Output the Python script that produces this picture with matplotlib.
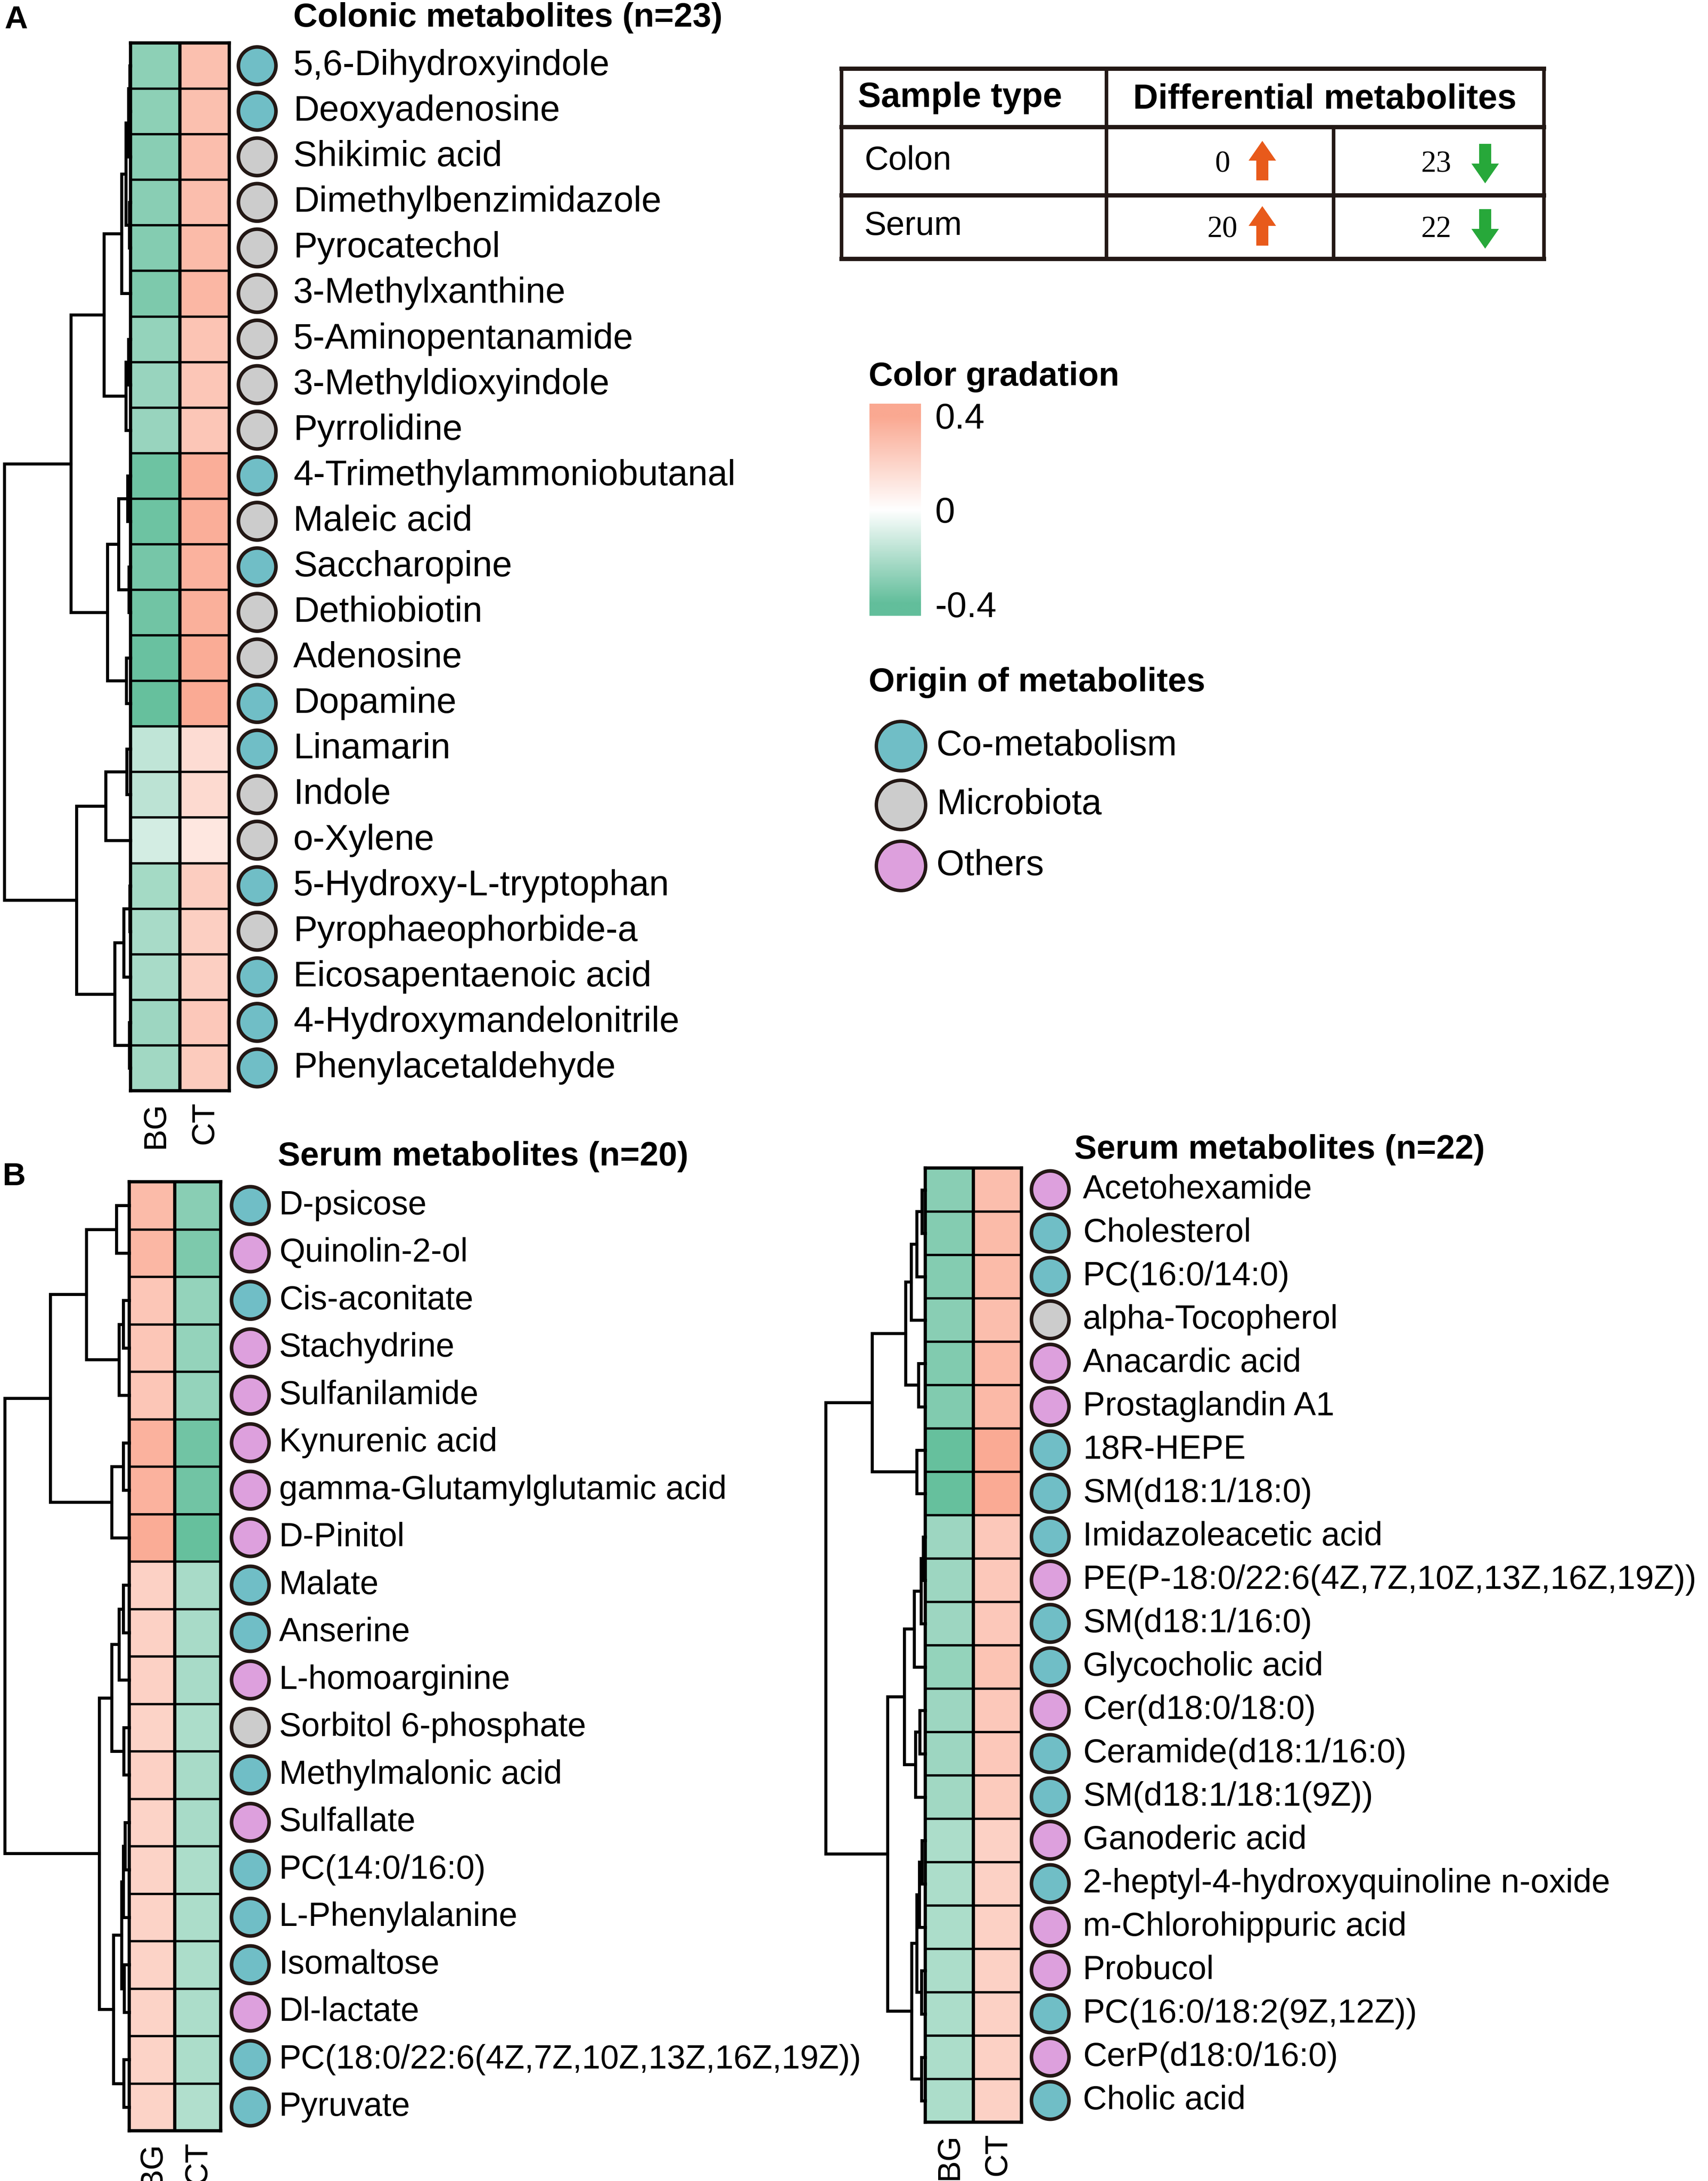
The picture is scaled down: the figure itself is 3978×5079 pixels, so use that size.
import numpy as np
import matplotlib
matplotlib.use("Agg")
import matplotlib.pyplot as plt
from matplotlib.colors import LinearSegmentedColormap
from matplotlib.patches import FancyArrow

plt.rcParams['font.family'] = ['Liberation Sans', 'DejaVu Sans']

# ---------------- data ----------------
colon_names = ["5,6-Dihydroxyindole", "Deoxyadenosine", "Shikimic acid", "Dimethylbenzimidazole",
               "Pyrocatechol", "3-Methylxanthine", "5-Aminopentanamide", "3-Methyldioxyindole",
               "Pyrrolidine", "4-Trimethylammoniobutanal", "Maleic acid", "Saccharopine",
               "Dethiobiotin", "Adenosine", "Dopamine", "Linamarin", "Indole", "o-Xylene",
               "5-Hydroxy-L-tryptophan", "Pyrophaeophorbide-a", "Eicosapentaenoic acid",
               "4-Hydroxymandelonitrile", "Phenylacetaldehyde"]
colon_origin = ["C", "C", "M", "M", "M", "M", "M", "M", "M", "C", "M", "C", "M", "M", "C",
                "C", "M", "M", "C", "M", "C", "C", "C"]
colon_bg = [-0.29, -0.29, -0.30, -0.30, -0.31, -0.33, -0.27, -0.26, -0.26, -0.37, -0.37, -0.35,
            -0.36, -0.38, -0.39, -0.16, -0.17, -0.11, -0.23, -0.22, -0.22, -0.25, -0.24]
colon_ct = [0.29, 0.29, 0.30, 0.30, 0.31, 0.33, 0.27, 0.26, 0.26, 0.37, 0.37, 0.35,
            0.36, 0.38, 0.39, 0.16, 0.17, 0.11, 0.23, 0.22, 0.22, 0.25, 0.24]
colon_tree = (1.0,
              (0.473,
               (0.212,
                (0.073, (0.036, (0.018, (0.006, 0, 1), 2), (0.010, 3, 4)), 5),
                (0.039, (0.018, 6, 7), 8)),
               (0.185,
                (0.095, (0.024, 9, 10), (0.015, 11, 12)),
                (0.034, 13, 14))),
              (0.43,
               (0.196, (0.03, 15, 16), 17),
               (0.127, (0.055, (0.006, 18, 19), 20), (0.010, 21, 22))))

serum_up_names = ["D-psicose", "Quinolin-2-ol", "Cis-aconitate", "Stachydrine", "Sulfanilamide",
                  "Kynurenic acid", "gamma-Glutamylglutamic acid", "D-Pinitol", "Malate", "Anserine",
                  "L-homoarginine", "Sorbitol 6-phosphate", "Methylmalonic acid", "Sulfallate",
                  "PC(14:0/16:0)", "L-Phenylalanine", "Isomaltose", "Dl-lactate",
                  "PC(18:0/22:6(4Z,7Z,10Z,13Z,16Z,19Z))", "Pyruvate"]
serum_up_origin = ["C", "O", "C", "O", "O", "O", "O", "O", "C", "C", "O", "M", "C", "O",
                   "C", "C", "C", "O", "C", "C"]
serum_up_bg = [0.31, 0.33, 0.26, 0.26, 0.26, 0.35, 0.35, 0.38, 0.21, 0.21, 0.21, 0.20, 0.21, 0.20,
               0.20, 0.20, 0.20, 0.20, 0.20, 0.20]
serum_up_ct = [-0.30, -0.33, -0.27, -0.27, -0.27, -0.36, -0.36, -0.39, -0.22, -0.22, -0.22, -0.21,
               -0.22, -0.22, -0.21, -0.21, -0.21, -0.21, -0.21, -0.20]
serum_up_tree = (1.0,
                 (0.636,
                  (0.344, (0.103, 0, 1), (0.084, (0.047, 2, 3), 4)),
                  (0.14, (0.047, 5, 6), 7)),
                 (0.243,
                  (0.142, (0.084, (0.047, 8, 9), 10), (0.044, 11, 12)),
                  (0.129, (0.062, (0.05, (0.035, 13, 14), 15), (0.04, 16, 17)), (0.044, 18, 19))))

serum_dn_names = ["Acetohexamide", "Cholesterol", "PC(16:0/14:0)", "alpha-Tocopherol", "Anacardic acid",
                  "Prostaglandin A1", "18R-HEPE", "SM(d18:1/18:0)", "Imidazoleacetic acid",
                  "PE(P-18:0/22:6(4Z,7Z,10Z,13Z,16Z,19Z))", "SM(d18:1/16:0)", "Glycocholic acid",
                  "Cer(d18:0/18:0)", "Ceramide(d18:1/16:0)", "SM(d18:1/18:1(9Z))", "Ganoderic acid",
                  "2-heptyl-4-hydroxyquinoline n-oxide", "m-Chlorohippuric acid", "Probucol",
                  "PC(16:0/18:2(9Z,12Z))", "CerP(d18:0/16:0)", "Cholic acid"]
serum_dn_origin = ["O", "C", "C", "M", "O", "O", "C", "C", "C", "O", "C", "C", "O", "C", "C",
                   "O", "C", "O", "O", "C", "O", "C"]
serum_dn_bg = [-0.30, -0.31, -0.31, -0.30, -0.32, -0.32, -0.39, -0.39, -0.25, -0.25, -0.25, -0.27,
               -0.25, -0.25, -0.24, -0.21, -0.21, -0.21, -0.21, -0.21, -0.21, -0.21]
serum_dn_ct = [0.30, 0.31, 0.31, 0.30, 0.32, 0.32, 0.39, 0.39, 0.25, 0.25, 0.25, 0.27,
               0.25, 0.25, 0.24, 0.21, 0.21, 0.21, 0.21, 0.21, 0.21, 0.21]
serum_dn_tree = (1.0,
                 (0.535,
                  (0.197, (0.141, (0.085, (0.035, 0, 1), 2), 3), (0.07, 4, 5)),
                  (0.085, 6, 7)),
                 (0.38,
                  (0.211,
                   (0.113, (0.042, (0.02, 8, 9), 10), 11),
                   (0.1, (0.056, 12, 13), 14)),
                  (0.14,
                   (0.085, (0.06, (0.035, 15, 16), 17), (0.04, 18, 19)),
                   (0.04, 20, 21))))

groups = ["BG", "CT"]
origin_labels = ["Co-metabolism", "Microbiota", "Others"]
origin_keys = ["C", "M", "O"]
origin_colors = {"C": "#70BEC6", "M": "#CCCCCC", "O": "#DDA0DD"}

table_samples = ["Colon", "Serum"]
table_up = [0, 20]
table_down = [23, 22]

cbar_ticks = [0.4, 0.0, -0.4]
cbar_ticklabels = ["0.4", "0", "-0.4"]

# ---------------- style / layout ----------------
W, H, DPI = 3978, 5079, 300
EDGE = "#231815"
cmap = LinearSegmentedColormap.from_list("gw", ["#62BE9B", "#FFFFFF", "#FAA891"])
LAB_FS = 20
B_FS = 18.6
TITLE_FS = 18.8

fig = plt.figure(figsize=(W / DPI, H / DPI), dpi=DPI)


def ax_px(x0, y0, x1, y1):
    return fig.add_axes([x0 / W, 1 - y1 / H, (x1 - x0) / W, (y1 - y0) / H])


def draw_tree(ax, node, lw=1.7):
    if isinstance(node, int):
        return node + 0.5, 0.0
    h, left, right = node
    yl, hl = draw_tree(ax, left, lw)
    yr, hr = draw_tree(ax, right, lw)
    ax.plot([hl, h, h, hr], [yl, yl, yr, yr], color="black", lw=lw,
            solid_joinstyle="miter", clip_on=False)
    return (yl + yr) / 2, h


def panel(hx0, hx1, y0, y1, root_x, circ_x, text_x, names, origin, bg, ct, tree,
          fs, lab_right):
    n = len(names)
    ax = ax_px(hx0, y0, hx1, y1)
    M = np.column_stack([bg, ct])
    ax.pcolormesh(np.arange(3), np.arange(n + 1), M, cmap=cmap, vmin=-0.4, vmax=0.4)
    ax.set_xlim(0, 2)
    ax.set_ylim(n, 0)
    ax.hlines(np.arange(1, n), 0, 2, color="black", lw=1.3)
    ax.vlines([1], 0, n, color="black", lw=1.8)
    for s in ax.spines.values():
        s.set_linewidth(1.8)
    ax.set_xticks([])
    ax.set_yticks([])
    for j, g in enumerate(groups):
        ax.annotate(g, xy=(j + 0.5, n), xytext=(0, -6), textcoords="offset points",
                    rotation=90, ha="center", va="top", fontsize=18, annotation_clip=False)
    # dendrogram
    axd = ax_px(root_x, y0, hx0, y1)
    axd.set_xlim(1.0, 0.0)
    axd.set_ylim(n, 0)
    axd.axis("off")
    draw_tree(axd, tree)
    # circles + labels
    axl = ax_px(hx1, y0, lab_right, y1)
    axl.set_xlim(hx1, lab_right)
    axl.set_ylim(n, 0)
    axl.axis("off")
    rows = np.arange(n) + 0.5
    axl.scatter(np.full(n, circ_x), rows, s=440, c=[origin_colors[o] for o in origin],
                edgecolors=EDGE, linewidths=2.0, clip_on=False, zorder=3)
    for r, name in zip(rows, names):
        axl.text(text_x, r, name, ha="left", va="center", fontsize=fs)
    return ax


panel(304, 534, 100, 2540, 10, 599, 683, colon_names, colon_origin, colon_bg, colon_ct,
      colon_tree, LAB_FS, 1950)
panel(301, 514, 2752, 4962, 11, 583, 650, serum_up_names, serum_up_origin, serum_up_bg,
      serum_up_ct, serum_up_tree, B_FS, 1900)
panel(2155, 2379, 2720, 4942, 1923, 2446, 2522, serum_dn_names, serum_dn_origin, serum_dn_bg,
      serum_dn_ct, serum_dn_tree, B_FS, W)

# titles & panel letters
fig.text(683 / W, 1 - 42 / H, "Colonic metabolites (n=23)", ha="left", va="center",
         fontsize=TITLE_FS, fontweight="bold")
fig.text(647 / W, 1 - 2693 / H, "Serum metabolites (n=20)", ha="left", va="center",
         fontsize=TITLE_FS, fontweight="bold")
fig.text(2502 / W, 1 - 2677 / H, "Serum metabolites (n=22)", ha="left", va="center",
         fontsize=TITLE_FS, fontweight="bold")
fig.text(37 / W, 1 - 47 / H, "A", ha="center", va="center", fontsize=18, fontweight="bold")
fig.text(33 / W, 1 - 2740 / H, "B", ha="center", va="center", fontsize=18, fontweight="bold")

# ---------------- table ----------------
axt = ax_px(1940, 140, 3620, 620)
axt.set_xlim(1940, 3620)
axt.set_ylim(620, 140)
axt.axis("off")
for yy in [160, 296, 455, 603]:
    axt.plot([1960, 3596], [yy, yy], color=EDGE, lw=2.4, solid_capstyle="projecting")
for xx, ya, yb in [(1960, 160, 603), (2577, 160, 603), (3106, 296, 603), (3596, 160, 603)]:
    axt.plot([xx, xx], [ya, yb], color=EDGE, lw=2.0)
axt.text(1998, 228, "Sample type", ha="left", va="center", fontsize=19.4, fontweight="bold")
axt.text(3086, 232, "Differential metabolites", ha="center", va="center", fontsize=19.4,
         fontweight="bold")
row_y = [375, 527]
for i, s in enumerate(table_samples):
    axt.text(2013, row_y[i], s, ha="left", va="center", fontsize=18.6)
    axt.text(2847, row_y[i] + 8, str(table_up[i]), ha="center", va="center", fontsize=17,
             family=["Liberation Serif", "DejaVu Serif"])
    axt.text(3345, row_y[i] + 8, str(table_down[i]), ha="center", va="center", fontsize=17,
             family=["Liberation Serif", "DejaVu Serif"])
    yc = row_y[i]
    axt.add_patch(FancyArrow(2940, yc + 45, 0, -92, width=28, head_width=64, head_length=46,
                             length_includes_head=True, color="#E85A1B", lw=0))
    axt.add_patch(FancyArrow(3459, yc - 40, 0, 92, width=28, head_width=64, head_length=46,
                             length_includes_head=True, color="#27A83A", lw=0))

# ---------------- colour bar ----------------
fig.text(2023 / W, 1 - 878 / H, "Color gradation", ha="left", va="center",
         fontsize=TITLE_FS, fontweight="bold")
cax = ax_px(2025, 940, 2144, 1434)
grad = np.linspace(-0.45, 0.45, 256)[:, None]
cax.imshow(grad, cmap=cmap, vmin=-0.4, vmax=0.4, aspect="auto", origin="lower",
           extent=(0, 1, -0.45, 0.45))
cax.set_xticks([])
cax.yaxis.tick_right()
cax.set_yticks(cbar_ticks)
cax.set_yticklabels(cbar_ticklabels, fontsize=20)
cax.tick_params(axis="y", length=0, pad=8)
for s in cax.spines.values():
    s.set_visible(False)

# ---------------- origin legend ----------------
fig.text(2023 / W, 1 - 1590 / H, "Origin of metabolites", ha="left", va="center",
         fontsize=TITLE_FS, fontweight="bold")
axg = ax_px(1990, 1650, 2900, 2100)
axg.set_xlim(1990, 2900)
axg.set_ylim(2100, 1650)
axg.axis("off")
leg_y = [1737, 1874, 2016]
for yy, k, lab in zip(leg_y, origin_keys, origin_labels):
    axg.scatter([2098], [yy], s=760, c=origin_colors[k], edgecolors=EDGE, linewidths=1.9,
                clip_on=False)
    axg.text(2181, yy, lab, ha="left", va="center", fontsize=20)

fig.savefig("out.png", dpi=DPI)
